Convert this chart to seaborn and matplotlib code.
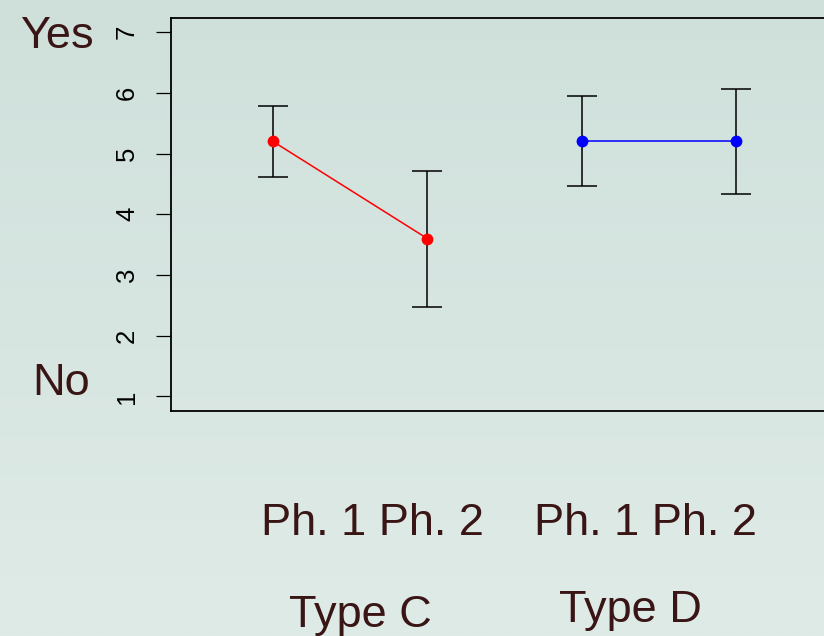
import numpy as np
import pandas as pd
import matplotlib
matplotlib.use('Agg')
import matplotlib.pyplot as plt
import seaborn as sns

# 数据
positions = [1, 2, 3, 4]
groups = ['Type C', 'Type C', 'Type D', 'Type D']
means = [5.2, 3.6, 5.2, 5.2]
upper = [5.79, 4.72, 5.94, 6.06]
lower = [4.62, 2.48, 4.47, 4.34]
y_ticks = [1, 2, 3, 4, 5, 6, 7]
phase_labels = ['Ph. 1 Ph. 2', 'Ph. 1 Ph. 2']
type_labels = ['Type C', 'Type D']

df = pd.DataFrame({'pos': positions, 'group': groups, 'mean': means,
                   'upper': upper, 'lower': lower})

sns.set_style('white')
plt.rcParams['font.family'] = ['Liberation Sans', 'DejaVu Sans']

W, H = 824, 636
fig = plt.figure(figsize=(W / 100, H / 100), dpi=100)

# 背景渐变
bg = fig.add_axes([0, 0, 1, 1], zorder=-1)
top = np.array([0xcf, 0xe0, 0xdb]) / 255
bot = np.array([0xdf, 0xeb, 0xe7]) / 255
t = np.linspace(0, 1, 256)[:, None, None]
grad = top * (1 - t) + bot * t
bg.imshow(grad, aspect='auto', extent=[0, 1, 0, 1])
bg.set_axis_off()

ax = fig.add_axes([171 / W, 1 - 411 / H, (838 - 171) / W, (411 - 17.5) / H])
ax.patch.set_alpha(0)

# 误差线
ax.errorbar(df['pos'], df['mean'],
            yerr=[df['mean'] - df['lower'], df['upper'] - df['mean']],
            fmt='none', ecolor='black', elinewidth=1.1, capsize=10.5,
            capthick=1.1, zorder=2)

# 均值点和连线
sns.lineplot(data=df, x='pos', y='mean', hue='group',
             palette={'Type C': '#ff0000', 'Type D': '#0000ff'},
             marker='o', markersize=8.5, markeredgewidth=0, linewidth=1.1,
             legend=False, ax=ax, zorder=3)

ax.set_xlim(0.34, 4.66)
ax.set_ylim(0.76, 7.24)
ax.set_xticks([])
ax.set_yticks(y_ticks)
ax.set_yticklabels([str(v) for v in y_ticks], rotation=90, va='center')
ax.tick_params(axis='y', length=11, width=0.9, pad=12, labelsize=18.5,
               colors='black', left=True)
ax.set_xlabel('')
ax.set_ylabel('')
for s in ax.spines.values():
    s.set_color('black')
    s.set_linewidth(1.3)

txt_color = '#3a1515'
fs = 32.5
fig.text(20 / W, 1 - 48 / H, 'Yes', ha='left', va='baseline', fontsize=fs, color=txt_color)
fig.text(32 / W, 1 - 395 / H, 'No', ha='left', va='baseline', fontsize=fs, color=txt_color)
for lab, cx in zip(phase_labels, [372, 645]):
    fig.text(cx / W, 1 - 535 / H, lab, ha='center', va='baseline', fontsize=fs, color=txt_color)
for lab, cx, by in zip(type_labels, [360, 630], [627, 622]):
    fig.text(cx / W, 1 - by / H, lab, ha='center', va='baseline', fontsize=fs, color=txt_color)

plt.savefig('out.png', dpi=100)
